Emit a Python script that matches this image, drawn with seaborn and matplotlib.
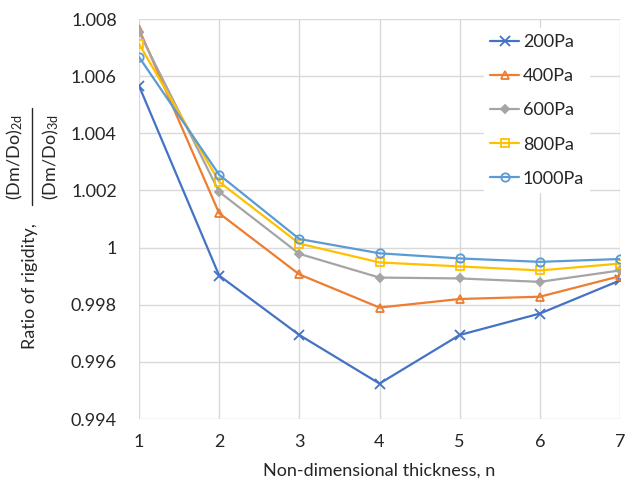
import matplotlib
matplotlib.use("Agg")
import matplotlib.pyplot as plt
import seaborn as sns
import numpy as np
from matplotlib.ticker import FuncFormatter
from matplotlib.lines import Line2D

n = [1, 2, 3, 4, 5, 6, 7]
labels = ["200Pa", "400Pa", "600Pa", "800Pa", "1000Pa"]
v200 = [1.00566, 0.99902, 0.99694, 0.99524, 0.99694, 0.99769, 0.99885]
v400 = [1.00765, 1.00120, 0.99906, 0.99790, 0.99820, 0.99828, 0.99900]
v600 = [1.00755, 1.00195, 0.99978, 0.99895, 0.99892, 0.99880, 0.99920]
v800 = [1.00713, 1.00230, 1.00014, 0.99948, 0.99934, 0.99920, 0.99944]
v1000 = [1.00667, 1.00255, 1.00030, 0.99980, 0.99962, 0.99950, 0.99960]
series = [v200, v400, v600, v800, v1000]

colors = ["#4472C4", "#ED7D31", "#A5A5A5", "#FFC000", "#5B9BD5"]
markers = ["x", "^", "D", "s", "o"]
filled = [True, False, True, False, False]
msizes = [6.5, 6, 4.5, 6, 6]

sns.set_theme(style="white")
plt.rcParams["font.family"] = ["Lato", "DejaVu Sans"]
plt.rcParams["mathtext.fontset"] = "custom"
plt.rcParams["mathtext.rm"] = "Lato"
plt.rcParams["mathtext.it"] = "Lato:italic"
plt.rcParams["mathtext.bf"] = "Lato:bold"

W, H = 627, 482
fig = plt.figure(figsize=(W/100, H/100), dpi=100)
ax = fig.add_axes([139/W, 1-419/H, (620-139)/W, (419-19)/H])

for vals, lab, c, m, f, ms in zip(series, labels, colors, markers, filled, msizes):
    kw = dict(marker=m, color=c, markersize=ms, linewidth=1.6, label=lab,
              markeredgecolor=c, markeredgewidth=1.3)
    kw["markerfacecolor"] = c if f else "none"
    sns.lineplot(x=n, y=vals, ax=ax, **kw)

ax.set_xlim(1, 7)
ax.set_ylim(0.994, 1.008)
ax.set_xticks(n)
ax.set_yticks(np.arange(0.994, 1.0081, 0.002))
ax.yaxis.set_major_formatter(FuncFormatter(lambda v, p: f"{v:.3f}".rstrip("0").rstrip(".")))
ax.grid(True, color="#d9d9d9", linewidth=1.0)
for s in ax.spines.values():
    s.set_visible(False)
ax.tick_params(axis="y", labelsize=13, length=0, pad=16)
ax.tick_params(axis="x", labelsize=13, length=0, pad=11)
for t in ax.get_xticklabels() + ax.get_yticklabels():
    t.set_color("#262626")

ax.set_xlabel("Non-dimensional thickness, n", fontsize=13, color="#262626", labelpad=9)

# y label: text plus stacked fraction
tc = "#262626"
fig.text(30/W, 1-286/H, "Ratio of rigidity,", rotation=90, ha="center", va="center",
         fontsize=13, color=tc)
fig.text(15/W, 1-157/H, r"(Dm/Do)$_{\mathrm{2d}}$", rotation=90, ha="center", va="center",
         fontsize=13, color=tc)
fig.text(51/W, 1-157/H, r"(Dm/Do)$_{\mathrm{3d}}$", rotation=90, ha="center", va="center",
         fontsize=13, color=tc)
fig.add_artist(Line2D([32/W, 32/W], [1-108/H, 1-205/H], color=tc, linewidth=1.0,
                      transform=fig.transFigure))

leg = ax.legend(loc="upper left", bbox_to_anchor=((475-139)/481, 1.0), frameon=True,
                fancybox=False, edgecolor="none", facecolor="white", framealpha=1,
                fontsize=13, handlelength=1.6, labelspacing=1.0, borderpad=0.35,
                handletextpad=0.2)
for t in leg.get_texts():
    t.set_color(tc)

fig.savefig("out.png", dpi=100)
